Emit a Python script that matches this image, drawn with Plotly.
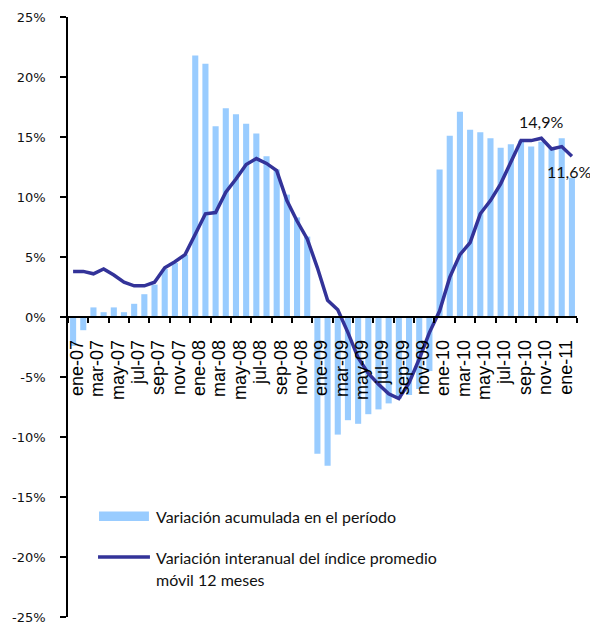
import plotly.graph_objects as go

# Monthly periods, Jan-2007 .. Feb-2011
meses = ["ene", "feb", "mar", "abr", "may", "jun", "jul", "ago", "sep", "oct", "nov", "dic"]
periodos = [f"{m}-{a:02d}" for a in range(7, 12) for m in meses][:50]

# Variación acumulada en el período (%)
acumulada = [
    -2.4, -1.1, 0.8, 0.4, 0.8, 0.4, 1.1, 1.9, 2.7, 4.0, 4.5, 5.2,
    21.8, 21.1, 15.9, 17.4, 16.9, 16.1, 15.3, 13.4, 12.3, 10.2, 8.3, 6.7,
    -11.4, -12.4, -9.8, -8.6, -8.9, -8.1, -7.7, -7.2, -6.8, -6.5, -6.0, -4.5,
    12.3, 15.1, 17.1, 15.6, 15.4, 14.9, 14.1, 14.4, 14.7, 14.2, 14.6, 14.1,
    14.9, 11.6,
]

# Variación interanual del índice promedio móvil 12 meses (%)
interanual = [
    3.8, 3.8, 3.6, 4.0, 3.5, 2.9, 2.6, 2.6, 2.9, 4.1, 4.6, 5.2,
    6.9, 8.6, 8.7, 10.4, 11.5, 12.7, 13.2, 12.8, 12.2, 9.7, 8.0, 6.5,
    4.1, 1.4, 0.6, -1.3, -3.4, -4.7, -5.6, -6.4, -6.8, -5.5, -3.5, -1.3,
    0.5, 3.3, 5.2, 6.2, 8.6, 9.7, 11.1, 12.9, 14.7, 14.7, 14.9, 14.0,
    14.2, 13.4,
]

# Y-axis ticks (%)
y_ticks = [-25, -20, -15, -10, -5, 0, 5, 10, 15, 20, 25]
y_ticktext = [f"{v}%" for v in y_ticks]

nombre_barras = "Variación acumulada en el período"
nombre_linea_1 = "Variación interanual del índice promedio"
nombre_linea_2 = "móvil 12 meses"

color_barras = "#99CCFF"
color_linea = "#333399"
fuente_leyenda = dict(family="Lato", size=16, color="#111111")
fuente_etiqueta = dict(family="Lato", size=16, color="#111111")


def fmt(v):
    return f"{v:.1f}".replace(".", ",") + "%"


fig = go.Figure()
fig.add_trace(go.Bar(
    x=periodos, y=acumulada, name=nombre_barras,
    marker=dict(color=color_barras, line=dict(width=0)),
))
fig.add_trace(go.Scatter(
    x=periodos, y=interanual, name=nombre_linea_1, mode="lines",
    line=dict(color=color_linea, width=3.5),
))

# Data labels: peak of the moving average and the last accumulated value
i_pico = interanual.index(max(interanual))
fig.add_annotation(x=periodos[i_pico], y=interanual[i_pico], text=fmt(interanual[i_pico]),
                   showarrow=False, yshift=17, font=fuente_etiqueta)
fig.add_annotation(x=periodos[-1], y=acumulada[-1], text=fmt(acumulada[-1]),
                   showarrow=False, yshift=6, xshift=-3, font=fuente_etiqueta)

# Hand-built legend inside the plot area
fig.add_shape(type="rect", xref="paper", yref="paper", x0=0.061, x1=0.159, y0=0.16, y1=0.176,
              fillcolor=color_barras, line=dict(width=0))
fig.add_shape(type="line", xref="paper", yref="paper", x0=0.059, x1=0.161, y0=0.1, y1=0.1,
              line=dict(color=color_linea, width=3.5))
fig.add_annotation(xref="paper", yref="paper", x=0.169, y=0.168, text=nombre_barras,
                   xanchor="left", yanchor="middle", showarrow=False, font=fuente_leyenda)
fig.add_annotation(xref="paper", yref="paper", x=0.169, y=0.1, text=nombre_linea_1,
                   xanchor="left", yanchor="middle", showarrow=False, font=fuente_leyenda)
fig.add_annotation(xref="paper", yref="paper", x=0.169, y=0.062, text=nombre_linea_2,
                   xanchor="left", yanchor="middle", showarrow=False, font=fuente_leyenda)

fig.update_layout(
    width=590, height=622,
    margin=dict(l=68, r=13, t=17, b=5),
    paper_bgcolor="white", plot_bgcolor="white",
    showlegend=False, bargap=0.4,
    xaxis=dict(
        type="category", range=[-0.5, len(periodos) - 0.5],
        anchor="free", position=0.5, automargin=False,
        tickmode="linear", tick0=0, dtick=2, tickson="boundaries",
        tickangle=-90, ticks="outside", ticklen=5, tickwidth=1.5, tickcolor="black",
        ticklabelstandoff=15, ticklabelshift=4,
        showline=True, linecolor="black", linewidth=1.5,
        showgrid=False, zeroline=False,
        tickfont=dict(family="Liberation Sans", size=18, color="black"),
    ),
    yaxis=dict(
        range=[-25, 25], tickmode="array", tickvals=y_ticks, ticktext=y_ticktext,
        automargin=False,
        ticks="outside", ticklen=6, tickwidth=1.5, tickcolor="black",
        showline=True, linecolor="black", linewidth=1.5,
        showgrid=False, zeroline=False, ticklabelstandoff=12,
        ticklabeloverflow="allow",
        tickfont=dict(family="DejaVu Sans", size=13, color="#111111"),
    ),
)

fig.write_html("out.html")
